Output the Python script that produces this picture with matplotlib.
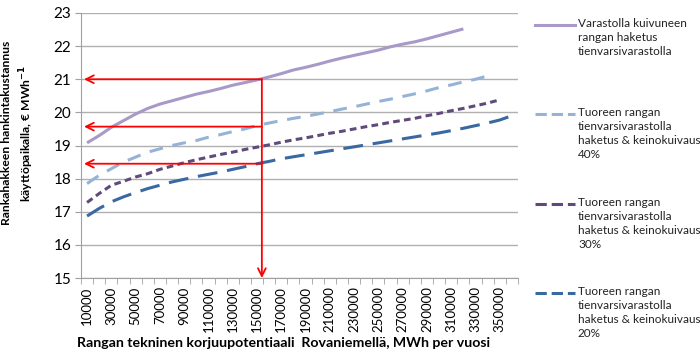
import matplotlib
matplotlib.use("Agg")
import matplotlib.pyplot as plt
from matplotlib.lines import Line2D

plt.rcParams['font.family'] = ['Lato', 'DejaVu Sans']

categories = [str(v) for v in range(10000, 360001, 10000)]

s_dried = [19.08, 19.3, 19.55, 19.75, 19.95, 20.12, 20.25, 20.35, 20.45, 20.55,
           20.63, 20.72, 20.82, 20.9, 20.98, 21.07, 21.17, 21.28, 21.36, 21.45,
           21.55, 21.64, 21.72, 21.8, 21.88, 21.98, 22.06, 22.13, 22.22, 22.32,
           22.42, 22.52]
s_40 = [17.85, 18.1, 18.3, 18.5, 18.65, 18.8, 18.9, 19.0, 19.08, 19.15,
        19.25, 19.33, 19.42, 19.5, 19.6, 19.68, 19.75, 19.82, 19.88, 19.95,
        20.02, 20.1, 20.17, 20.25, 20.33, 20.4, 20.48, 20.56, 20.65, 20.75,
        20.83, 20.92, 21.0, 21.1]
s_30 = [17.28, 17.55, 17.8, 17.92, 18.05, 18.15, 18.28, 18.38, 18.48, 18.57,
        18.65, 18.73, 18.8, 18.88, 18.95, 19.02, 19.1, 19.17, 19.23, 19.3,
        19.37, 19.43, 19.5, 19.57, 19.63, 19.7, 19.76, 19.82, 19.9, 19.97,
        20.05, 20.12, 20.2, 20.28, 20.38]
s_20 = [16.87, 17.1, 17.3, 17.45, 17.58, 17.7, 17.8, 17.9, 17.98, 18.06,
        18.13, 18.2, 18.28, 18.36, 18.45, 18.52, 18.6, 18.66, 18.72, 18.78,
        18.84, 18.9, 18.96, 19.02, 19.08, 19.14, 19.2, 19.26, 19.32, 19.38,
        19.45, 19.52, 19.6, 19.68, 19.77, 19.9]

legend_labels = [
    "Varastolla kuivuneen\nrangan haketus\ntienvarsivarastolla",
    "Tuoreen rangan\ntienvarsivarastolla\nhaketus & keinokuivaus\n40%",
    "Tuoreen rangan\ntienvarsivarastolla\nhaketus & keinokuivaus\n30%",
    "Tuoreen rangan\ntienvarsivarastolla\nhaketus & keinokuivaus\n20%",
]

# annotation: selected potential (category position, slightly right of 150000) and cost levels
arrow_cat = 14.4
arrow_levels = [21.0, 19.57, 18.45]

c_dried = '#a899c8'
c_40 = '#95b3d7'
c_30 = '#604a7b'
c_20 = '#3a68a0'

fig = plt.figure(figsize=(7.0, 3.59), dpi=100)
ax = fig.add_axes([0.1157, 0.2256, 0.6243, 0.7382])

lw = 2.2
styles = [
    (s_dried, c_dried, None),
    (s_40, c_40, (0, (4.5, 3.2))),
    (s_30, c_30, (0, (2.2, 1.4))),
    (s_20, c_20, (0, (6.5, 3.2))),
]
handles = []
for data, col, dash in styles:
    x = list(range(len(data)))
    if dash is None:
        l, = ax.plot(x, data, color=col, lw=lw, solid_capstyle='butt')
    else:
        l, = ax.plot(x, data, color=col, lw=lw, linestyle=dash, dash_capstyle='butt')
    handles.append(l)

ax.set_xlim(-0.5, len(categories) - 0.5)
ax.set_ylim(15, 23)
ax.set_yticks(range(15, 24))
ax.tick_params(axis='y', labelsize=11, length=4, color='#a0a0a0', pad=3)
ax.yaxis.grid(True, color='#b0b0b0', lw=1)
ax.set_axisbelow(True)

ax.set_xticks(range(len(categories)))
ax.set_xticklabels([c if i % 2 == 0 else '' for i, c in enumerate(categories)],
                   rotation=90, fontsize=9.5)
ax.tick_params(axis='x', length=0, pad=6)
ax.set_xticks([i - 0.5 for i in range(len(categories) + 1)], minor=True)
ax.tick_params(axis='x', which='minor', length=4, color='#a0a0a0')

for sp in ['top', 'right']:
    ax.spines[sp].set_visible(False)
for sp in ['left', 'bottom']:
    ax.spines[sp].set_color('#a0a0a0')

# red arrows
arrow_kw = dict(arrowstyle='->', color='#ff0000', lw=1.3, mutation_scale=14,
                shrinkA=0, shrinkB=0)
ax.annotate('', xy=(arrow_cat, 15), xytext=(arrow_cat, arrow_levels[0]),
            arrowprops=arrow_kw)
for lvl in arrow_levels:
    ax.annotate('', xy=(-0.25, lvl), xytext=(arrow_cat, lvl), arrowprops=arrow_kw)

fig.text(0.027, 0.63, "Rankahakkeen hankintakustannus\nkäyttöpaikalla, € MWh$^{\\mathbf{-1}}$",
         rotation=90, ha='center', va='center', fontsize=8.7, fontweight='bold',
         linespacing=1.4)
fig.text(0.405, 0.045, "Rangan tekninen korjuupotentiaali  Rovaniemellä, MWh per vuosi",
         ha='center', va='center', fontsize=10.2, fontweight='bold')

# manual legend
leg_y = [25, 114, 204, 293]
for h, lab, yy in zip(handles, legend_labels, leg_y):
    yf = 1 - yy / 359
    ln = Line2D([535 / 700, 575 / 700], [yf, yf], transform=fig.transFigure,
                color=h.get_color(), lw=lw, linestyle=h.get_linestyle())
    fig.add_artist(ln)
    fig.text(578 / 700, yf + 7 / 359, lab, ha='left', va='top', fontsize=8.5,
             linespacing=1.33, color='#222222')

fig.savefig('out.png', dpi=100)
